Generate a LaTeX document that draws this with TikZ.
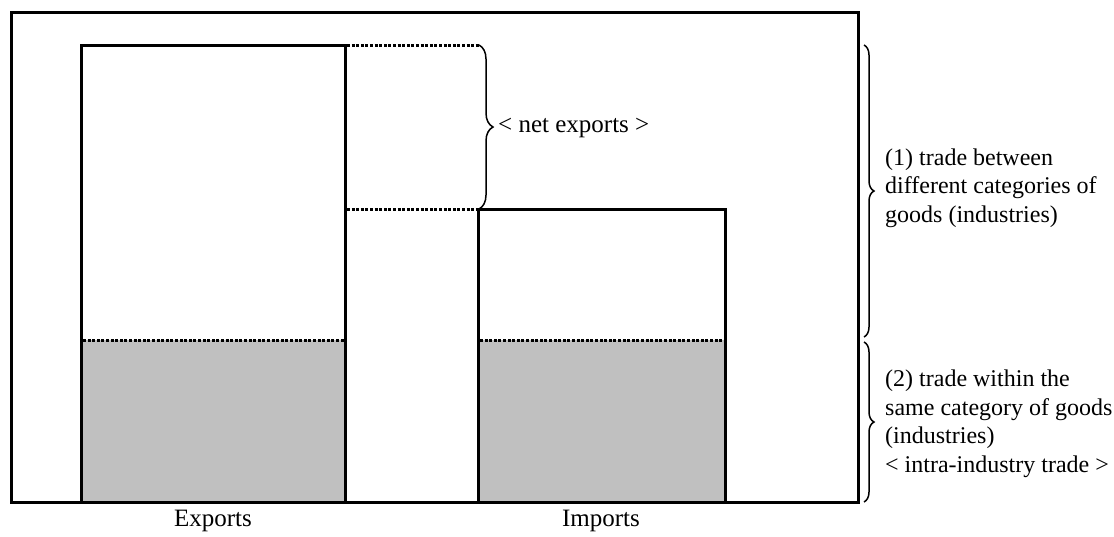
\documentclass[tikz,border=0pt]{standalone}
\usepackage{fontspec}
\setmainfont{Liberation Serif}
\usetikzlibrary{decorations.pathreplacing}
\definecolor{barfill}{RGB}{192,192,192}
\tikzset{
  thickline/.style={line width=3pt},
  dotline/.style={line width=3pt,dash pattern=on 3pt off 1.6pt},
  bracestyle/.style={line width=1.5pt,decorate,decoration={brace,amplitude=#1,aspect=0.5}},
  lbl/.style={font=\fontsize{25}{29}\selectfont,inner sep=0pt},
  side/.style={font=\fontsize{24}{28.5}\selectfont,inner sep=0pt,align=left,anchor=west}}
\begin{document}
\begin{tikzpicture}[x=1pt,y=-1pt]
\useasboundingbox (0,0) rectangle (1114,536);
% gray parts
\fill[barfill] (81,340) rectangle (345,502);
\fill[barfill] (478,340) rectangle (725,502);
% bars
\draw[thickline] (81,502) -- (81,45) -- (345,45) -- (345,502);
\draw[thickline] (478,502) -- (478,209) -- (725,209) -- (725,502);
% frame
\draw[thickline] (11,12) rectangle (858,502);
% dotted lines
\draw[dotline] (83,340) -- (344,340);
\draw[dotline] (480,340) -- (724,340);
\coordinate (ne1) at (347,45);
\coordinate (ne2) at (480,45);
\coordinate (ni1) at (347,209);
\coordinate (ni2) at (477,209);
\draw[dotline] (ne1) -- (ne2);
\draw[dotline] (ni1) -- (ni2);
% net exports brace
\coordinate (nb1) at (479,45);
\coordinate (nb2) at (479,209);
\draw[bracestyle=14pt] (nb1) -- (nb2);
\node[lbl,anchor=west] (net) at (498,128) {< net exports >};
% right braces
\coordinate (rb1) at (864,45);
\coordinate (rb2) at (864,337);
\coordinate (rb3) at (864,342);
\coordinate (rb4) at (864,502);
\draw[bracestyle=10pt] (rb1) -- (rb2);
\draw[bracestyle=10pt] (rb3) -- (rb4);
\node[side] (t1) at (885,188) {(1) trade between\\different categories of\\goods (industries)};
\node[side] (t2) at (885,424) {(2) trade within the\\same category of goods\\(industries)\\< intra-industry trade >};
% axis labels
\node[lbl] (exp) at (213,521) {Exports};
\node[lbl] (imp) at (601,521) {Imports};
\end{tikzpicture}
\end{document}
